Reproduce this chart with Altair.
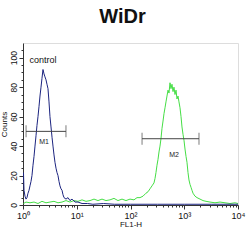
import altair as alt
import pandas as pd

# x read as decade exponents (position on the 4-decade log axis), y as counts
blue_e = [0.009, 0.019, 0.037, 0.056, 0.074, 0.093, 0.112, 0.130, 0.149, 0.167,
          0.186, 0.205, 0.223, 0.242, 0.260, 0.279, 0.298, 0.316, 0.335, 0.353,
          0.372, 0.391, 0.409, 0.428, 0.446, 0.465, 0.484, 0.502, 0.521, 0.540,
          0.558, 0.577, 0.595, 0.614, 0.633, 0.651, 0.670, 0.688, 0.707, 0.726,
          0.744, 0.763, 0.800, 0.837, 0.874, 0.912, 0.967, 1.023, 1.098, 1.2,
          1.3, 1.5, 1.7, 2.0, 2.5, 3.0, 3.5, 4.0]
blue_n = [22, 10, 6, 4, 5, 8, 10, 13, 16, 20,
          27, 33, 40, 47, 54, 60, 67, 74, 80, 86,
          92, 89, 87, 85, 82, 79, 70, 60, 53, 46,
          40, 34, 29, 25, 22, 20, 16, 13, 11, 10,
          7, 5, 4, 5, 3, 4, 2, 2, 1, 1,
          0.5, 1, 0.5, 0.5, 0.5, 0.5, 0.5, 0.5]

green_e = [0.009, 0.056, 0.130, 0.205, 0.279, 0.353, 0.428, 0.502, 0.577, 0.651,
           0.726, 0.800, 0.874, 0.949, 1.023, 1.098, 1.172, 1.247, 1.321, 1.395,
           1.470, 1.544, 1.619, 1.693, 1.767, 1.842, 1.916, 1.991, 2.065, 2.121,
           2.177, 2.233, 2.288, 2.326, 2.363, 2.400, 2.437, 2.456, 2.474, 2.493,
           2.512, 2.530, 2.549, 2.567, 2.586, 2.605, 2.623, 2.642, 2.660, 2.679,
           2.698, 2.716, 2.735, 2.753, 2.772, 2.791, 2.809, 2.828, 2.847, 2.865,
           2.884, 2.902, 2.921, 2.940, 2.958, 2.977, 2.995, 3.014, 3.033, 3.051,
           3.070, 3.088, 3.107, 3.126, 3.144, 3.163, 3.200, 3.237, 3.293, 3.349,
           3.405, 3.479, 3.572, 3.665, 3.758, 3.851, 3.944, 4.0]
green_n = [1, 2, 1.5, 2, 1, 2.5, 1.5, 2, 2.5, 1.5,
           2, 3, 2, 3, 2.5, 3.5, 2.5, 3, 4, 3,
           4, 3, 3.5, 4.5, 3, 4, 3, 4, 3.5, 5,
           5, 6, 8, 9, 11, 13, 15, 18, 22, 27,
           31, 36, 40, 45, 52, 57, 62, 66, 70, 74,
           78, 76, 83, 79, 82, 77, 80, 75, 78, 72,
           74, 70, 66, 60, 53, 48, 44, 38, 33, 29,
           22, 17, 14, 12, 10, 8, 6, 5, 4, 3,
           2.5, 2, 1.5, 2, 1.5, 1, 1.5, 1]

marker_names = ["M1", "M2"]
marker_lo = [1.14, 164]
marker_hi = [6.3, 1880]
marker_y = [50, 45]
marker_label_x = [2.46, 645]
marker_label_y = [42.5, 34]

control_label = ["control"]
control_x = [2.36]
control_y = [98.5]

x_ticks = [1, 2, 3, 4, 5, 6, 7, 8, 9, 10, 20, 30, 40, 50, 60, 70, 80, 90,
           100, 200, 300, 400, 500, 600, 700, 800, 900,
           1000, 2000, 3000, 4000, 5000, 6000, 7000, 8000, 9000, 10000]
y_ticks = list(range(0, 110, 5))

blue = pd.DataFrame({"e": blue_e, "n": blue_n})
green = pd.DataFrame({"e": green_e, "n": green_n})
markers = pd.DataFrame({"name": marker_names, "lo": marker_lo, "hi": marker_hi,
                        "y": marker_y, "lx": marker_label_x, "ly": marker_label_y})
ctrl = pd.DataFrame({"t": control_label, "x": control_x, "y": control_y})

FONT = "Liberation Sans"

xscale = alt.Scale(type="log", domain=[1, 10000], nice=False)
yscale = alt.Scale(domain=[0, 110], nice=False)

label_expr = ("datum.value == 1 ? '10⁰' : datum.value == 10 ? '10¹' : "
              "datum.value == 100 ? '10²' : datum.value == 1000 ? '10³' : "
              "datum.value == 10000 ? '10⁴' : ''")

xaxis = alt.Axis(values=x_ticks, labelExpr=label_expr, title="FL1-H",
                 labelFont=FONT, labelFontSize=9, labelColor="#111",
                 titleFont=FONT, titleFontSize=8, titleFontWeight="normal",
                 titleColor="#111", titlePadding=0, labelPadding=2,
                 tickSize={"condition": {"test": "indexof([1,10,100,1000,10000], datum.value) >= 0", "value": 4}, "value": 2},
                 tickColor="#333", domainColor="#333", grid=False,
                 labelFlush=False, labelOverlap=False)

yaxis = alt.Axis(values=y_ticks,
                 labelExpr="datum.value % 20 == 0 ? '' + datum.value : ''",
                 title="Counts", labelAngle=270, labelFont=FONT, labelFontSize=8.5,
                 labelColor="#111", titleFont=FONT, titleFontSize=8,
                 titleFontWeight="normal", titleColor="#111", titlePadding=1,
                 labelPadding=1,
                 tickSize={"condition": {"test": "datum.value % 20 == 0", "value": 4}, "value": 2},
                 tickColor="#333", domainColor="#333", grid=False,
                 labelAlign="center", labelBaseline="bottom", labelOverlap=False,
                 labelFlush=False)

green_line = alt.Chart(green).transform_calculate(fl="pow(10, datum.e)").mark_line(
    color="#45de45", strokeWidth=1, interpolate="linear", clip=True
).encode(x=alt.X("fl:Q", scale=xscale, axis=xaxis),
         y=alt.Y("n:Q", scale=yscale, axis=yaxis))

blue_line = alt.Chart(blue).transform_calculate(fl="pow(10, datum.e)").mark_line(
    color="#1c2480", strokeWidth=1, clip=True
).encode(x=alt.X("fl:Q", scale=xscale, axis=xaxis),
         y=alt.Y("n:Q", scale=yscale, axis=yaxis))

bars = alt.Chart(markers).mark_rule(color="#444", strokeWidth=1).encode(
    x=alt.X("lo:Q", scale=xscale, axis=xaxis), x2="hi:Q",
    y=alt.Y("y:Q", scale=yscale, axis=yaxis))
caps_lo = alt.Chart(markers).mark_tick(color="#444", orient="vertical", size=12, thickness=1).encode(
    x=alt.X("lo:Q", scale=xscale, axis=xaxis), y=alt.Y("y:Q", scale=yscale, axis=yaxis))
caps_hi = alt.Chart(markers).mark_tick(color="#444", orient="vertical", size=12, thickness=1).encode(
    x=alt.X("hi:Q", scale=xscale, axis=xaxis), y=alt.Y("y:Q", scale=yscale, axis=yaxis))
mlabels = alt.Chart(markers).mark_text(font=FONT, fontSize=7, color="#222").encode(
    x=alt.X("lx:Q", scale=xscale, axis=xaxis), y=alt.Y("ly:Q", scale=yscale, axis=yaxis),
    text="name:N")
clabel = alt.Chart(ctrl).mark_text(font=FONT, fontSize=9, color="#111").encode(
    x=alt.X("x:Q", scale=xscale, axis=xaxis), y=alt.Y("y:Q", scale=yscale, axis=yaxis),
    text="t:N")

chart = alt.layer(green_line, blue_line, bars, caps_lo, caps_hi, mlabels, clabel).properties(
    width=215, height=162,
    title=alt.TitleParams("WiDr", font=FONT, fontSize=20, fontWeight="bold",
                          color="#111", dx=-8, offset=16, anchor="middle"),
    autosize=alt.AutoSizeParams(type="none"),
    padding={"left": 23, "top": 43, "right": 12, "bottom": 40},
).configure_view(stroke="#333", strokeWidth=1).configure_axis(
    labelOverlap=False
).configure(background="white")

chart.save("out.html", embed_options={"renderer": "svg", "actions": False})
